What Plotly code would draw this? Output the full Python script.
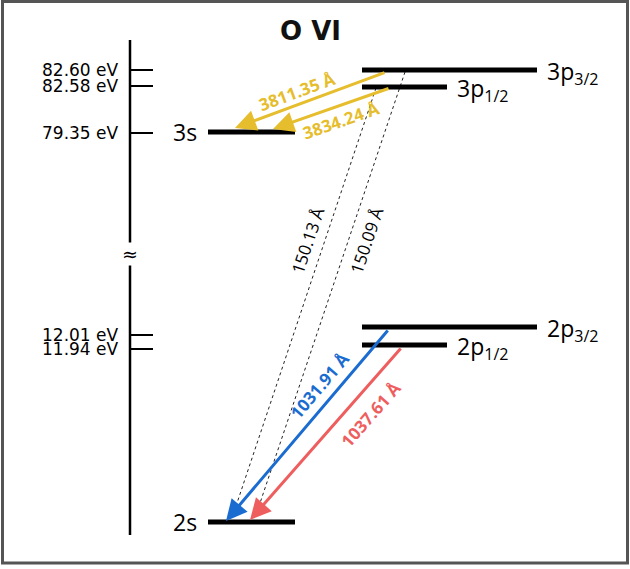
import math
import numpy as np
import plotly.graph_objects as go

# ---------------- data ----------------
ion_name = "O VI"
level_ids = ["2s", "2p1/2", "2p3/2", "3s", "3p1/2", "3p3/2"]
level_labels = ["2s", "2p<sub>1/2</sub>", "2p<sub>3/2</sub>", "3s", "3p<sub>1/2</sub>", "3p<sub>3/2</sub>"]
level_energy_eV = [0.0, 11.94, 12.01, 79.35, 82.58, 82.60]

tick_energy_eV = [82.60, 82.58, 79.35, 12.01, 11.94]
tick_labels = ["82.60 eV", "82.58 eV", "79.35 eV", "12.01 eV", "11.94 eV"]

trans_upper = ["3p3/2", "3p1/2", "3p1/2", "3p3/2", "2p3/2", "2p1/2"]
trans_lower = ["3s", "3s", "2s", "2s", "2s", "2s"]
trans_wavelength_A = [3811.35, 3834.24, 150.13, 150.09, 1031.91, 1037.61]
trans_kind = ["yellow", "yellow", "dotted", "dotted", "blue", "red"]

# ---------------- schematic (broken, non-linear) energy scale ----------------
LEVEL_SCALE_E = [0.0, 11.94, 12.01, 79.35, 82.58, 82.60]
LEVEL_SCALE_ROW = [522, 345, 327, 132, 87, 70]
AXIS_SCALE_E = [11.94, 12.01, 79.35, 82.58, 82.60]
AXIS_SCALE_ROW = [349, 335, 133, 86, 70]
BREAK_ROW = 254
AXIS_X, AXIS_TOP, AXIS_BOTTOM, TICK_LEN = 130, 40, 535, 23


def level_row(E):
    return float(np.interp(E, LEVEL_SCALE_E, LEVEL_SCALE_ROW))


def axis_row(E):
    return float(np.interp(E, AXIS_SCALE_E, AXIS_SCALE_ROW))


LEVEL_SPAN = {"2s": (208, 295, "left"), "3s": (208, 295, "left"),
              "2p1/2": (362, 447, "right"), "3p1/2": (362, 447, "right"),
              "2p3/2": (362, 537, "right"), "3p3/2": (362, 537, "right")}

# tail x, tail dy, tip x, tip dy, label fraction along arrow, label perpendicular offset
TRANS_STYLE = [
    (386, 2, 235, -4, 0.56, 13),
    (390, 1, 273, -3, 0.46, -14),
    (376, 1, 233, -7, 0.37, 16),
    (405, 2, 257, -10, 0.37, -17),
    (389, 2, 226, -1, 0.35, 16),
    (402, 2, 250, -2, 0.31, -21),
]
COLORS = {"yellow": "#E6BD2C", "blue": "#1B6CD0", "red": "#EE5E5E", "dotted": "#222222"}
FONT = "Open Sans"
WIDE_FONT = "DejaVu Sans"

energy_of = dict(zip(level_ids, level_energy_eV))
label_of = dict(zip(level_ids, level_labels))

fig = go.Figure()
shapes = []
annotations = []

# frame
shapes.append(dict(type="rect", xref="x", yref="y", x0=2.5, y0=1.5, x1=627.5, y1=563,
                   line=dict(color="#555555", width=3)))

# vertical energy axis
shapes.append(dict(type="line", xref="x", yref="y", x0=AXIS_X, x1=AXIS_X, y0=AXIS_TOP, y1=AXIS_BOTTOM,
                   line=dict(color="black", width=2.5)))
for E, txt in zip(tick_energy_eV, tick_labels):
    r = axis_row(E)
    shapes.append(dict(type="line", xref="x", yref="y", x0=AXIS_X, x1=AXIS_X + TICK_LEN, y0=r, y1=r,
                       line=dict(color="black", width=2)))
    annotations.append(dict(x=AXIS_X - 9, y=r, xref="x", yref="y", text=txt, showarrow=False,
                            xanchor="right", yanchor="middle",
                            font=dict(family=WIDE_FONT, size=17, color="black")))
# axis break
annotations.append(dict(x=AXIS_X, y=BREAK_ROW, xref="x", yref="y", text="≈", showarrow=False,
                        bgcolor="white", borderpad=0, xanchor="center", yanchor="middle",
                        font=dict(family=WIDE_FONT, size=19, color="black")))

# levels
for lid in level_ids:
    x0, x1, side = LEVEL_SPAN[lid]
    r = level_row(energy_of[lid])
    shapes.append(dict(type="line", xref="x", yref="y", x0=x0, x1=x1, y0=r, y1=r,
                       line=dict(color="black", width=5)))
    if side == "left":
        annotations.append(dict(x=x0 - 9, y=r, xref="x", yref="y", text=label_of[lid], showarrow=False,
                                xanchor="right", yanchor="middle", font=dict(family=FONT, size=23, color="black")))
    else:
        annotations.append(dict(x=x1 + 8, y=r + 2, xref="x", yref="y", text=label_of[lid], showarrow=False,
                                xanchor="left", yanchor="middle", font=dict(family=FONT, size=23, color="black")))

# transitions
for up, lo, wl, kind, st in zip(trans_upper, trans_lower, trans_wavelength_A, trans_kind, TRANS_STYLE):
    tx, tdy, hx, hdy, frac, off = st
    ty = level_row(energy_of[up]) + tdy
    hy = level_row(energy_of[lo]) + hdy
    col = COLORS[kind]
    if kind == "dotted":
        fig.add_trace(go.Scatter(x=[tx, hx], y=[ty, hy], mode="lines", hoverinfo="skip",
                                 line=dict(color=col, width=1, dash="dot"), showlegend=False))
    else:
        annotations.append(dict(x=hx, y=hy, ax=tx, ay=ty, xref="x", yref="y", axref="x", ayref="y",
                                text="", showarrow=True, arrowhead=2, arrowsize=1.4, arrowwidth=3,
                                arrowcolor=col, standoff=0))
    dx, dy = hx - tx, hy - ty
    L = math.hypot(dx, dy)
    ux, uy = dx / L, dy / L
    cx, cy = tx + frac * dx, ty + frac * dy
    lx, ly = cx - off * uy, cy + off * ux
    ang = math.degrees(math.atan2(-uy, -ux))
    bold = kind != "dotted"
    annotations.append(dict(x=lx, y=ly, xref="x", yref="y", text=f"{wl:.2f} Å", showarrow=False,
                            textangle=ang, xanchor="center", yanchor="middle",
                            font=dict(family=FONT, size=17, color=col if bold else "black",
                                      weight="bold" if bold else "normal")))

# title
annotations.append(dict(x=310, y=31, xref="x", yref="y", text=f"<b>{ion_name}</b>", showarrow=False,
                        xanchor="center", yanchor="middle", font=dict(family=WIDE_FONT, size=26, color="#111111")))

fig.update_layout(
    width=630, height=569, margin=dict(l=0, r=0, t=0, b=0),
    paper_bgcolor="white", plot_bgcolor="white",
    xaxis=dict(range=[0, 630], visible=False, fixedrange=True),
    yaxis=dict(range=[569, 0], visible=False, fixedrange=True),
    shapes=shapes, annotations=annotations, showlegend=False,
)
fig.write_html("out.html")
